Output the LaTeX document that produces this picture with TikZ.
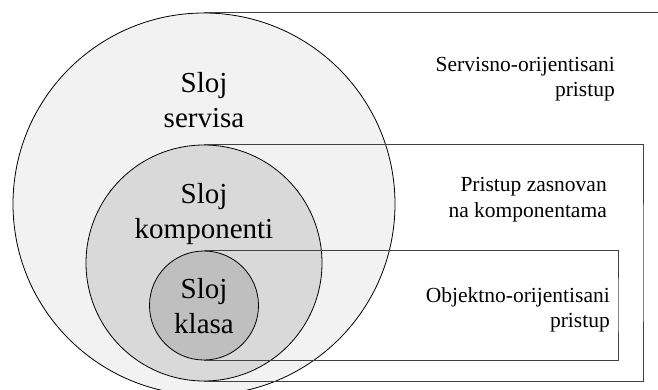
\documentclass[tikz,border=0pt]{standalone}
\usepackage{fontspec}
\setmainfont{Liberation Serif}
\usepackage{tikz}
\tikzstyle{layer}=[circle,draw=black,line width=0.8pt,inner sep=0pt]
\tikzstyle{approach}=[draw=black!75,line width=1pt]
\tikzstyle{biglabel}=[align=center,font=\fontsize{29}{35}\selectfont,anchor=base]
\tikzstyle{sidelabel}=[align=right,font=\fontsize{21.5}{25}\selectfont,anchor=base east,inner sep=0pt]

\begin{document}
\begin{tikzpicture}[x=1pt,y=-1pt]
                    \clip (0,0) rectangle (658,390);
                    \useasboundingbox (0,0) rectangle (658,390);

                    \node (services) at (204,204) [layer,fill=black!5,minimum size=382pt] {};
                    \node (components) at (204,263) [layer,fill=black!15,minimum size=236pt] {};
                    \node (classes) at (204,305.5) [layer,fill=black!25,minimum size=109pt] {};

                    \coordinate (rs) at (700,204);
                    \coordinate (rc) at (643,263);
                    \coordinate (rk) at (618,305.5);

                    \draw [approach] (services.north) -| (rs) |- (services.south);
                    \draw [approach] (components.north) -| (rc) |- (components.south);
                    \draw [approach] (classes.north) -| (rk) |- (classes.south);

                    \node (ls) at (204,128) [biglabel] {Sloj\\servisa};
                    \node (lc) at (204,238) [biglabel] {Sloj\\komponenti};
                    \node (lk) at (204,333) [biglabel] {Sloj\\klasa};

                    \node (ts) at (615,97) [sidelabel] {Servisno-orijentisani\\pristup};
                    \node (tc) at (607,217) [sidelabel] {Pristup zasnovan\\na komponentama};
                    \node (tk) at (610,327) [sidelabel] {Objektno-orijentisani\\pristup};
                \end{tikzpicture}
\end{document}
